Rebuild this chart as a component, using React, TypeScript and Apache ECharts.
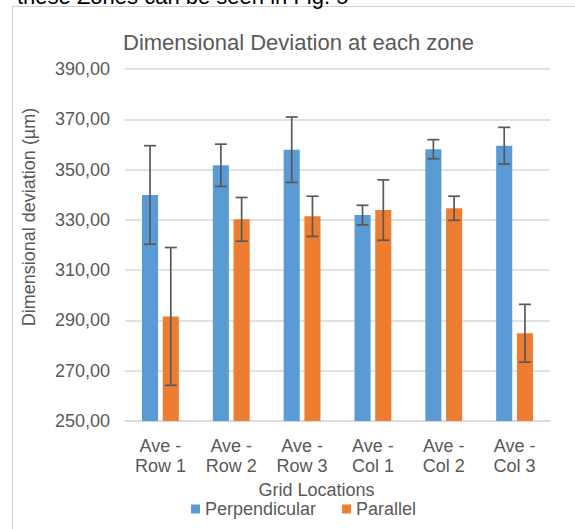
import React, { useEffect, useRef } from "react";
import * as echarts from "echarts";

const categories = [
  "Ave -\nRow 1",
  "Ave -\nRow 2",
  "Ave -\nRow 3",
  "Ave -\nCol 1",
  "Ave -\nCol 2",
  "Ave -\nCol 3",
];
const seriesNames = ["Perpendicular", "Parallel"];
const perpendicular = [339.9, 351.7, 357.9, 331.9, 358.1, 359.5];
const parallel = [291.6, 330.2, 331.4, 333.9, 334.6, 284.9];
const perpendicularErr = [19.6, 8.4, 13.0, 3.9, 3.8, 7.3];
const parallelErr = [27.4, 8.7, 8.0, 12.0, 4.8, 11.5];
const yTicks = [250, 270, 290, 310, 330, 350, 370, 390];

const COLORS = ["#5B9BD5", "#ED7D31"];
const TEXT = "#595959";
const FONT = "'Liberation Sans', Arial, sans-serif";
const CAT_GAP = 0.48;
const BAR_GAP = 0.29;

function errorSeries(values: number[], errs: number[], sign: number) {
  return {
    type: "custom",
    name: "err" + sign,
    coordinateSystem: "cartesian2d",
    silent: true,
    z: 10,
    encode: { x: 0, y: [1, 2] },
    data: values.map((v, i) => [i, v - errs[i], v + errs[i]]),
    renderItem: (params: any, api: any) => {
      const idx = api.value(0);
      const lo = api.coord([idx, api.value(1)]);
      const hi = api.coord([idx, api.value(2)]);
      const band = api.size([1, 0])[0];
      const barW = (band * (1 - CAT_GAP)) / (2 + BAR_GAP);
      const x = lo[0] + sign * barW * (1 + BAR_GAP) / 2;
      const cap = 6;
      const style = { stroke: "#595959", lineWidth: 1.7 };
      return {
        type: "group",
        children: [
          { type: "line", shape: { x1: x, y1: lo[1], x2: x, y2: hi[1] }, style },
          { type: "line", shape: { x1: x - cap, y1: lo[1], x2: x + cap, y2: lo[1] }, style },
          { type: "line", shape: { x1: x - cap, y1: hi[1], x2: x + cap, y2: hi[1] }, style },
        ],
      };
    },
  };
}

export default function App() {
  const ref = useRef<HTMLDivElement>(null);
  useEffect(() => {
    if (!ref.current) return;
    const chart = echarts.init(ref.current, null, { renderer: "svg" });
    chart.setOption({
      animation: false,
      textStyle: { fontFamily: FONT },
      title: {
        text: "Dimensional Deviation at each zone",
        left: 118,
        top: 26,
        textStyle: { fontSize: 22, fontWeight: "normal", color: TEXT, fontFamily: FONT },
      },
      graphic: [
        {
          type: "rect",
          shape: { x: 12.5, y: 6.5, width: 700, height: 700 },
          style: { fill: "none", stroke: "#D0D0D0", lineWidth: 1 },
          silent: true,
        },
        {
          type: "text",
          x: 17,
          y: 7,
          style: {
            text: "these Zones can be seen in Fig. 5",
            fill: "#000",
            font: "22px " + FONT,
            verticalAlign: "bottom",
          },
          silent: true,
        },
      ],
      legend: {
        data: seriesNames,
        left: 186,
        top: 495,
        itemWidth: 9,
        itemHeight: 9,
        itemGap: 26,
        icon: "rect",
        textStyle: { fontSize: 18, color: TEXT, fontFamily: FONT },
      },
      grid: { left: 125, right: 25, top: 69, bottom: 108 },
      xAxis: {
        type: "category",
        data: categories,
        name: "Grid Locations",
        nameLocation: "middle",
        nameGap: 59,
        nameTextStyle: { fontSize: 18, color: TEXT, padding: [0, 42, 0, 0] },
        axisTick: { show: false },
        axisLine: { lineStyle: { color: "#D9D9D9", width: 1.5 } },
        axisLabel: { fontSize: 18, lineHeight: 20, color: TEXT, margin: 15, interval: 0 },
      },
      yAxis: {
        type: "value",
        min: yTicks[0],
        max: yTicks[yTicks.length - 1],
        interval: yTicks[1] - yTicks[0],
        startValue: yTicks[0],
        name: "Dimensional deviation (µm)",
        nameLocation: "middle",
        nameRotate: 90,
        nameGap: 87,
        nameTextStyle: { fontSize: 18, color: TEXT, padding: [0, 0, 0, 56] },
        axisLine: { show: false },
        axisTick: { show: false },
        splitLine: { lineStyle: { color: "#D9D9D9", width: 1.5 } },
        axisLabel: {
          fontSize: 18,
          color: TEXT,
          margin: 15,
          formatter: (v: number) => v.toFixed(2).replace(".", ","),
        },
      },
      series: [
        {
          name: seriesNames[0],
          type: "bar",
          data: perpendicular,
          itemStyle: { color: COLORS[0] },
          barCategoryGap: "48%",
          barGap: "29%",
        },
        {
          name: seriesNames[1],
          type: "bar",
          data: parallel,
          itemStyle: { color: COLORS[1] },
          barCategoryGap: "48%",
          barGap: "29%",
        },
        errorSeries(perpendicular, perpendicularErr, -1),
        errorSeries(parallel, parallelErr, 1),
      ],
    });
    return () => chart.dispose();
  }, []);
  return (
    <div
      ref={ref}
      style={{ position: "absolute", left: 0, top: 0, width: 575, height: 529, background: "#fff" }}
    />
  );
}
